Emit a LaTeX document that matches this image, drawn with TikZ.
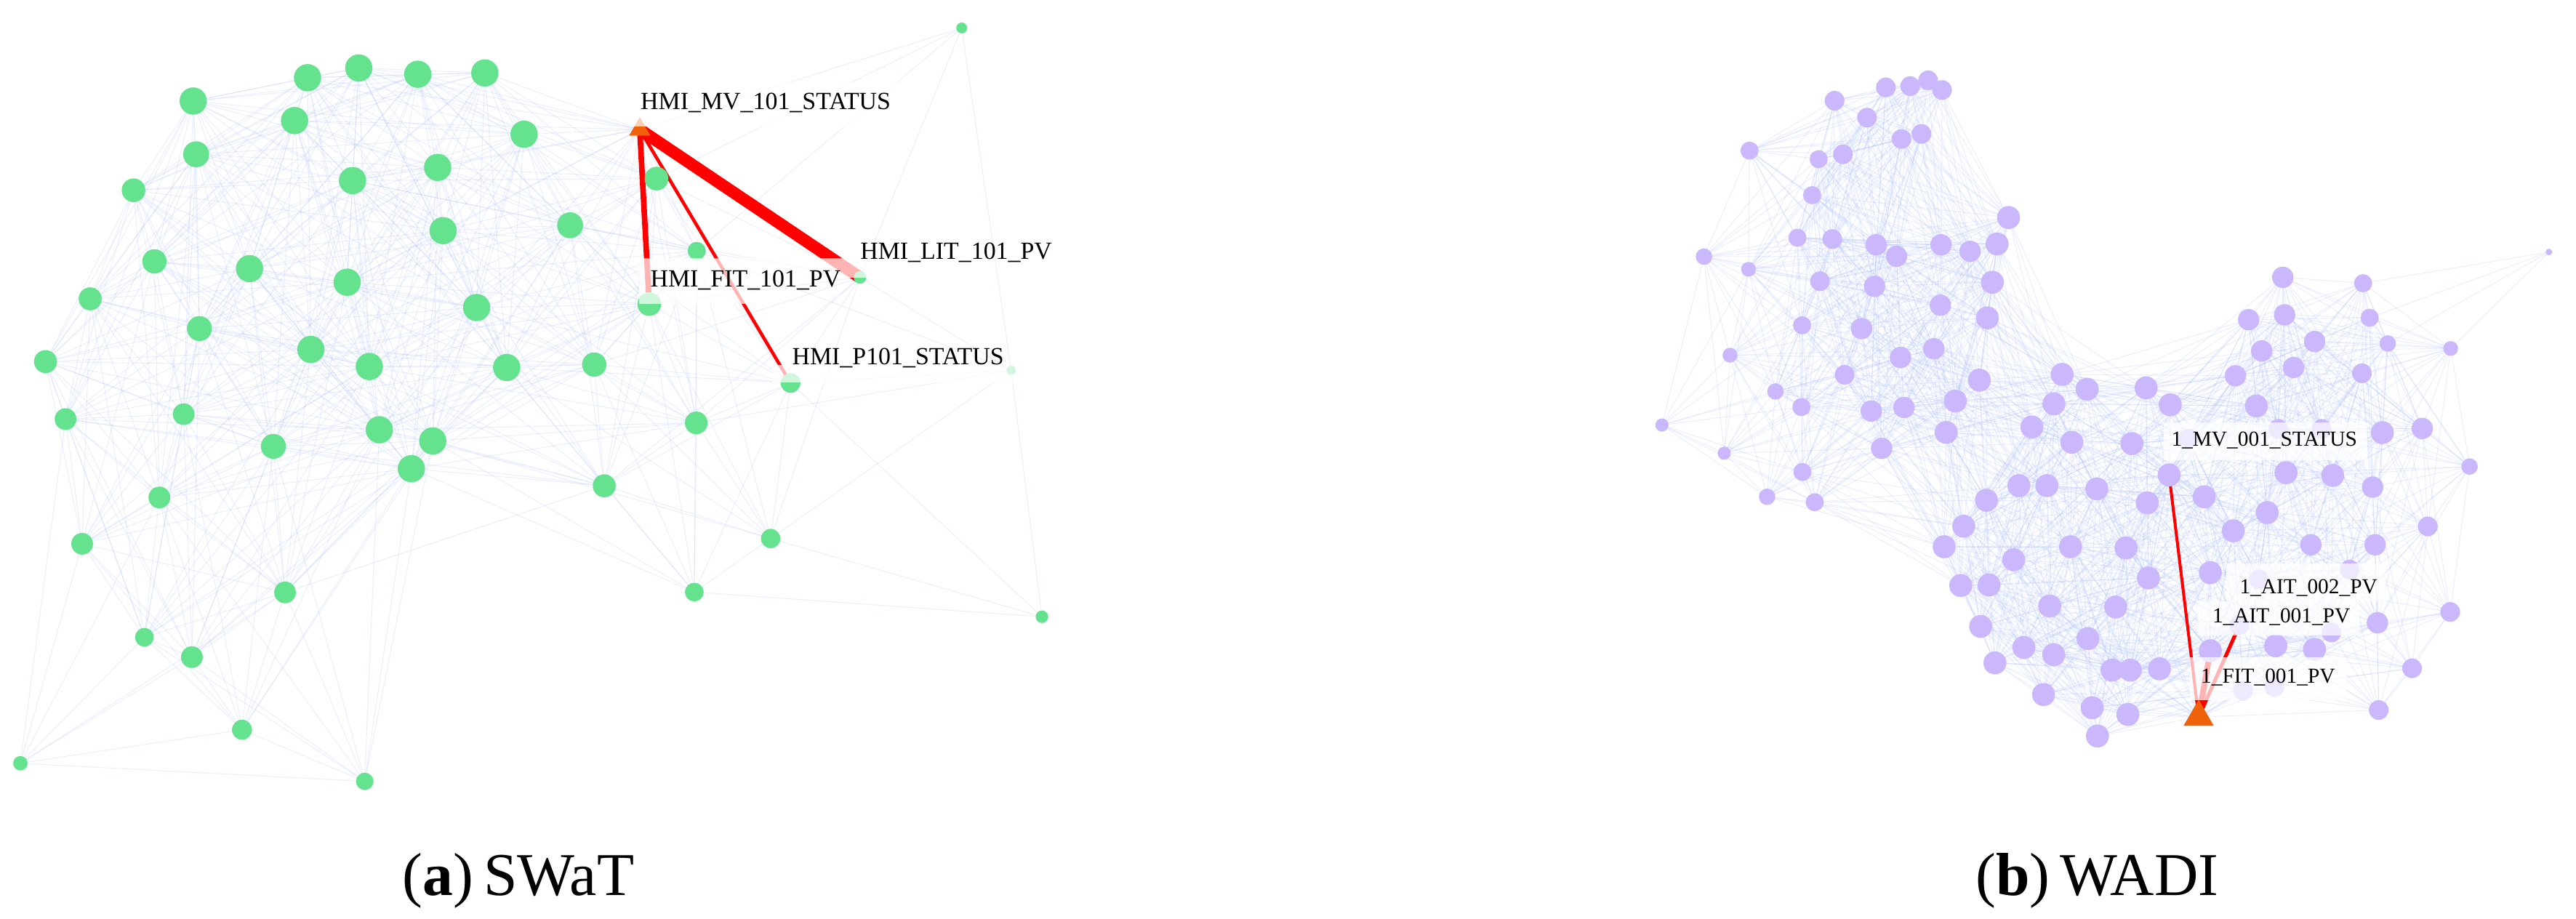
\documentclass[tikz,border=0pt]{standalone}
\usepackage{fontspec}
\setmainfont{Liberation Serif}
\usetikzlibrary{shapes.geometric}
\pgfdeclarelayer{bg}
\pgfsetlayers{bg,main}
\definecolor{meshblue}{RGB}{160,182,245}
\definecolor{gfill}{RGB}{100,226,142}
\definecolor{pfill}{RGB}{203,184,252}
\definecolor{trior}{RGB}{240,98,10}
\definecolor{redge}{RGB}{255,0,0}
\tikzset{
  gnode/.style={circle, fill=gfill, draw=none, inner sep=0pt},
  pnode/.style={circle, fill=pfill, draw=none, inner sep=0pt},
  tri/.style={regular polygon, regular polygon sides=3, fill=trior, draw=none, inner sep=0pt},
  meshedge/.style={draw=meshblue, line width=0.5pt, opacity=0.2},
  rededge/.style={draw=redge},
  paleb/.style={fill=white, opacity=0.7},
  lbla/.style={font=\fontsize{15}{18}\selectfont, inner sep=0pt, anchor=base west, text=black},
  lblb/.style={font=\fontsize{13}{16}\selectfont, inner sep=0pt, anchor=base west, text=black},
  capt/.style={font=\fontsize{37}{44}\selectfont, inner sep=0pt, anchor=base west, text=black}
}
% x/y/r ; r<0 : triangle of size |r|
% SWaT: 1 = HMI_MV_101_STATUS, 2 = HMI_FIT_101_PV, 3 = HMI_LIT_101_PV, 4 = HMI_P101_STATUS
\def\swatlist{389.4/78.8/-14.7, 395.2/185.1/7.2, 523.5/168.9/3.8, 481.2/233.1/6,
399.6/108.7/7.2, 424.1/152.7/5.5, 615.5/225.4/2.8, 585.4/17.0/3.3, 634.2/375.4/3.8,
423.8/257.4/6.9, 469.1/327.8/5.9, 422.6/360.4/5.7, 117.6/61.5/8.3, 187.2/47.3/8.3,
218.4/41.4/8.3, 254.3/45.2/8.3, 295.1/44.4/8.3, 179.3/73.4/8.3, 319.0/81.7/8.3,
119.4/93.9/7.9, 81.3/115.8/7.2, 266.4/101.9/8.3, 214.6/109.9/8.3, 269.7/140.4/8.3,
347.0/137.1/7.9, 94.0/159.1/7.4, 151.9/163.5/8.3, 211.3/171.8/8.3, 54.9/181.9/7,
290.1/187.2/8.3, 121.4/200.0/7.6, 27.7/220.1/7, 189.2/212.7/8.3, 224.8/223.1/8.3,
308.4/223.7/8.3, 361.7/221.9/7.4, 39.9/255.1/6.6, 111.8/252.1/6.6, 230.9/261.6/8.3,
263.4/268.4/8.3, 166.4/271.7/7.6, 250.4/285.3/8.3, 367.8/295.7/7, 97.0/302.8/6.6,
50.0/331.0/6.6, 173.5/360.6/6.6, 87.9/387.9/5.7, 116.8/400.0/6.6, 147.3/444.2/6.1,
12.4/464.6/4.4, 222.0/475.6/5.3}
% WADI: 1 = triangle, 2 = 1_MV_001_STATUS, 3 = 1_AIT_001_PV, 4 = 1_FIT_001_PV
\def\wadilist{1338.3/436.5/-21, 1320.3/289.1/7, 1363.1/380.6/6, 1345.4/396.1/7,
1116.7/61.3/6, 1147.9/53.2/6, 1162.7/52.4/6, 1173.6/48.9/6, 1182.1/54.8/6, 1136.4/71.6/6,
1157.4/84.6/6, 1169.6/81.5/6, 1064.9/91.7/5.5, 1107.0/96.9/5.5, 1121.8/93.9/6,
1103.0/118.8/5.5, 1222.6/132.4/7, 1094.1/144.7/5.5, 1115.3/145.5/6, 1142.0/149.0/6.5,
1154.4/156.0/6.5, 1181.5/149.0/6.5, 1199.2/153.0/6.5, 1215.6/148.5/7, 1037.2/156.2/5,
1064.3/163.9/4.5, 1107.8/171.2/6, 1141.0/174.3/6.5, 1212.7/171.8/7, 1181.1/185.8/6.5,
1209.7/193.5/7, 1096.9/198.0/5.5, 1133.1/200.0/6.5, 1177.1/212.3/6.5, 1053.0/216.2/4.5,
1156.8/217.6/6.5, 1122.8/228.1/6, 1204.8/231.4/7, 1080.7/238.3/5, 1096.5/247.8/5.5,
1139.0/250.2/6.5, 1158.9/248.0/6.5, 1190.2/244.1/7, 1011.6/258.7/4, 1145.3/272.9/6.5,
1049.5/275.9/4, 1097.1/287.3/5.5, 1075.6/302.4/5, 1104.6/305.7/5.5,
1255.2/227.9/7, 1270.4/236.9/7, 1250.2/245.8/7, 1236.8/259.9/7, 1184.6/263.2/7,
1261.1/269.2/7, 1297.7/270.0/7, 1306.3/236.1/7, 1209.1/304.5/7, 1228.9/295.6/7,
1245.9/295.6/7, 1276.3/297.6/7, 1195.3/320.3/7, 1260.3/332.8/7, 1183.4/332.8/7,
1294.1/333.5/7, 1307.0/306.1/7,
1193.5/356.4/7, 1210.7/356.1/7, 1247.6/368.9/7, 1205.6/381.3/7, 1270.9/388.7/7,
1231.9/394.1/7, 1250.1/398.5/7, 1214.3/403.5/7, 1243.9/422.8/7, 1273.5/430.8/7,
1276.7/448.0/7, 1225.7/340.7/7,
1321.0/246.4/7, 1373.4/247.1/7, 1450.1/263.3/7, 1474.4/260.8/6.5, 1391.5/287.7/7,
1419.9/289.4/7, 1444.2/296.5/6.5, 1503.2/284.0/5, 1341.7/302.4/7, 1380.0/312.0/7,
1359.4/323.1/7, 1477.8/320.4/6, 1406.6/331.6/6.5, 1445.7/331.6/6.5, 1307.7/351.8/7,
1345.4/348.6/7, 1287.8/369.5/7, 1447.1/379.1/6.5, 1491.4/372.5/6, 1385.2/393.1/7,
1408.8/395.3/7, 1296.7/407.9/7, 1314.4/407.1/7, 1285.6/407.9/7, 1468.2/406.8/6,
1295.2/434.9/7, 1447.9/432.2/6,
1389.5/168.8/6.5, 1438.4/172.4/5.5, 1368.7/194.6/6.5, 1390.6/191.6/6.5, 1442.4/193.4/5.5,
1376.7/213.6/6.5, 1408.9/207.9/6.5, 1453.4/209.1/5, 1491.7/212.1/4.5, 1360.7/228.7/6.5,
1396.1/223.7/6.5, 1437.7/227.2/6, 1551.5/153.4/2,
1374.9/352.6/6, 1430.2/346.7/6, 1419.1/385.0/6, 1365.3/420.4/6, 1384.4/418.2/6,
1332.0/267.0/6, 1386.7/261.1/6, 1413.2/261.1/6}
\begin{document}
\begin{tikzpicture}[x=1pt,y=-1pt]
\useasboundingbox (0,0) rectangle (1568,559);
% ---------- nodes ----------
\foreach \x/\y/\r [count=\i] in \swatlist {
  \ifdim\r pt<0pt
    \node[tri, minimum size={abs(\r)*1pt}] (sw\i) at (\x,\y) {};
  \else
    \node[gnode, minimum size={2*\r*1pt}] (sw\i) at (\x,\y) {};
  \fi
}
\foreach \x/\y/\r [count=\i] in \wadilist {
  \ifdim\r pt<0pt
    \node[tri, minimum size={abs(\r)*1pt}] (wd\i) at (\x,\y) {};
  \else
    \node[pnode, minimum size={2*\r*1pt}] (wd\i) at (\x,\y) {};
  \fi
}
% ---------- mesh edges ----------
\begin{pgfonlayer}{bg}
\foreach \xa/\ya/\ra [count=\i] in \swatlist {
  \foreach \xb/\yb/\rb [count=\j] in \swatlist {
    \ifnum\j>\i
      \pgfmathsetmacro\dd{veclen(\xb-\xa,\yb-\ya)}
      \ifdim\dd pt<215pt \draw[meshedge] (sw\i.center) -- (sw\j.center); \fi
    \fi
  }
}
\foreach \xa/\ya/\ra [count=\i] in \wadilist {
  \foreach \xb/\yb/\rb [count=\j] in \wadilist {
    \ifnum\j>\i
      \pgfmathsetmacro\dd{veclen(\xb-\xa,\yb-\ya)}
      \ifdim\dd pt<125pt \draw[meshedge] (wd\i.center) -- (wd\j.center); \fi
    \fi
  }
}
\draw[meshedge] (wd117.center) -- (wd84.center);
% ---------- highlighted edges ----------
\draw[rededge, line width=3.4pt] (sw1.center) -- (sw2.center);
\draw[rededge, line width=7.3pt] (sw1.center) -- (sw3.center);
\draw[rededge, line width=2pt] (sw1.center) -- (sw4.center);
\draw[rededge, line width=1.8pt] (wd1.center) -- (wd2.center);
\draw[rededge, line width=2.2pt] (wd1.center) -- (wd3.center);
\draw[rededge, line width=3.5pt] (wd1.center) -- (wd4.center);
\end{pgfonlayer}
% redraw triangles above red edges
\node[tri, minimum size=14.7pt] (swtop) at (sw1.center) {};
\node[tri, minimum size=21pt] (wdtop) at (wd1.center) {};
% ---------- label backgrounds ----------
\fill[paleb] (383,50) rectangle (550,77);
\fill[paleb] (389,157) rectangle (460,185);
\fill[paleb] (460,157) rectangle (533,169);
\fill[paleb] (470,222) rectangle (632,233);
\fill[paleb] (1317,257) rectangle (1441,280);
\fill[paleb] (1355,343) rectangle (1452,366);
\fill[paleb] (1338,366) rectangle (1436,387);
\fill[paleb] (1333,400) rectangle (1428,426);
% ---------- labels ----------
\node[lbla] (lmv) at (389.8,66.4) {HMI\_MV\_101\_STATUS};
\node[lbla] (llit) at (523.5,157.8) {HMI\_LIT\_101\_PV};
\node[lbla] (lfit) at (395.7,174.8) {HMI\_FIT\_101\_PV};
\node[lbla] (lp) at (482.0,222.0) {HMI\_P101\_STATUS};
\node[lblb] (wmv) at (1321.5,271.4) {1\_MV\_001\_STATUS};
\node[lblb] (wa2) at (1363.1,361.4) {1\_AIT\_002\_PV};
\node[lblb] (wa1) at (1346.5,379.0) {1\_AIT\_001\_PV};
\node[lblb] (wfit) at (1339.5,416.0) {1\_FIT\_001\_PV};
% ---------- captions ----------
\node[capt] (capa) at (244.9,545.1) {(\textbf{a})\,SWaT};
\node[capt] (capb) at (1202.3,545.1) {(\textbf{b})\,WADI};
\end{tikzpicture}
\end{document}
